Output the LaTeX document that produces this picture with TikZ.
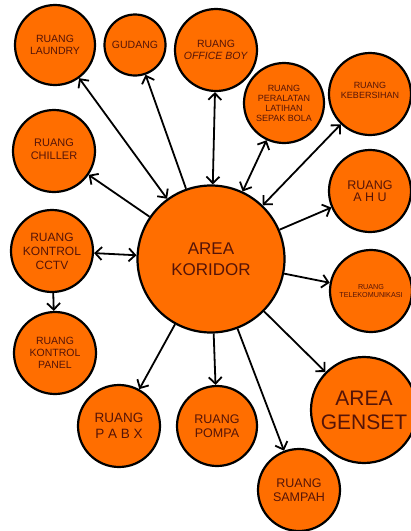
\documentclass[tikz,border=0pt]{standalone}
\usepackage{fontspec}
\setmainfont{Liberation Sans}
\usetikzlibrary{arrows.meta}
\definecolor{orng}{RGB}{255,110,0}
\definecolor{txt}{RGB}{85,20,8}
\tikzset{
  room/.style={circle, draw=black, line width=2.2pt, fill=orng, text=txt, align=center, inner sep=0pt},
  link/.style={line width=1.8pt, draw=black},
  tip/.tip={Straight Barb[length=6.5pt,width=13pt,line width=1.8pt]}
}
\newcommand{\fs}[2]{\fontsize{#1}{#2}\selectfont}
\begin{document}
\begin{tikzpicture}[x=1pt,y=-1pt]
\useasboundingbox (0,0) rectangle (411,531);
\clip (0,0) rectangle (411,531);
\node[room, minimum size=147pt, font=\fs{17}{21}] (kor) at (211,259) {AREA\\KORIDOR};
\node[room, minimum size=80pt, font=\fs{10.5}{12}] (laundry) at (55,45) {RUANG\\LAUNDRY};
\node[room, minimum size=61pt, font=\fs{10.5}{12}] (gudang) at (135,45) {GUDANG};
\node[room, minimum size=82pt, font=\fs{10.5}{12}] (office) at (216,50) {RUANG\\\textit{OFFICE BOY}};
\node[room, minimum size=80pt, font=\fs{9}{10}] (peralatan) at (284,103) {RUANG\\PERALATAN\\LATIHAN\\SEPAK BOLA};
\node[room, minimum size=82pt, font=\fs{9}{10}, text depth=8pt] (bersih) at (370,94) {RUANG\\KEBERSIHAN};
\node[room, minimum size=82pt, font=\fs{11}{12.5}, text depth=4pt] (chiller) at (54,151) {RUANG\\CHILLER};
\node[room, minimum size=82pt, font=\fs{12}{14}] (cctv) at (52,251) {RUANG\\KONTROL\\CCTV};
\node[room, minimum size=82pt, font=\fs{10.5}{12}] (panel) at (55,353) {RUANG\\KONTROL\\PANEL};
\node[room, minimum size=82pt, font=\fs{12.5}{12.5}] (ahu) at (370,191) {RUANG\\A H U};
\node[room, minimum size=82pt, font=\fs{7.2}{8.5}] (tele) at (371,291) {RUANG\\TELEKOMUNIKASI};
\node[room, minimum size=82pt, font=\fs{13.5}{16}] (pabx) at (119,426) {RUANG\\P A B X};
\node[room, minimum size=80pt, font=\fs{12.5}{14}] (pompa) at (217,426) {RUANG\\POMPA};
\node[room, minimum size=82pt, font=\fs{12.5}{14}] (sampah) at (299,490) {RUANG\\SAMPAH};
\node[room, minimum size=106pt, font=\fs{21}{24}] (genset) at (364,410) {AREA\\GENSET};

\draw[link, tip-tip] (kor) -- (laundry);
\draw[link, -tip] (kor) -- (gudang);
\draw[link, tip-tip] (kor) -- (office);
\draw[link, tip-tip] (kor) -- (peralatan);
\draw[link, tip-tip] (kor) -- (bersih);
\draw[link, -tip] (kor) -- (chiller);
\draw[link, -tip] (kor) -- (ahu);
\draw[link, -tip] (kor) -- (tele);
\draw[link, tip-tip] (kor) -- (cctv);
\draw[link, -tip] (cctv) -- (panel);
\draw[link, -tip] (kor) -- (pabx);
\draw[link, -tip] (kor) -- (pompa);
\draw[link, -tip] (kor) -- (sampah);
\draw[link, -tip] (kor) -- (genset);
\end{tikzpicture}
\end{document}
